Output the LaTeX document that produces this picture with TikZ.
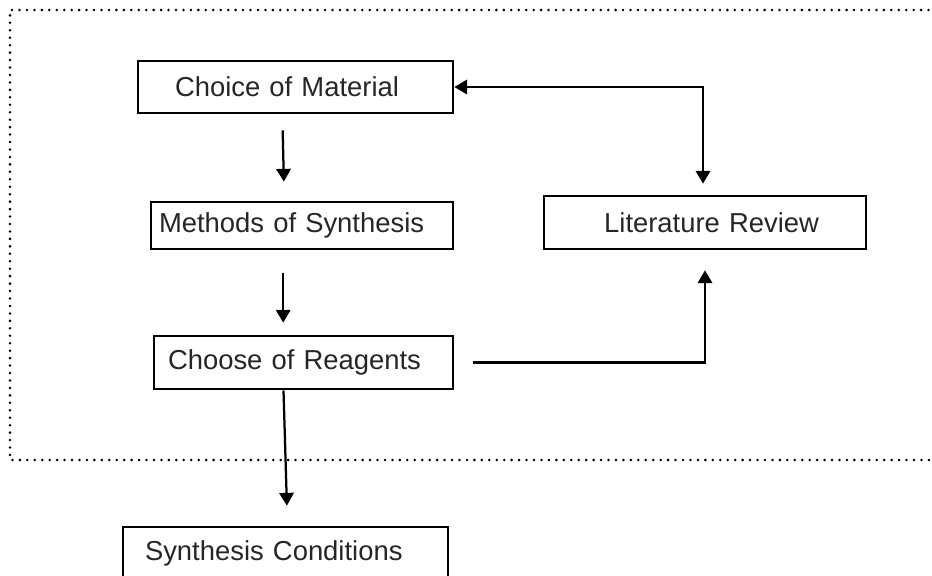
\documentclass[tikz,border=0pt]{standalone}
\usepackage{fontspec}
\setmainfont{Liberation Sans}
\usetikzlibrary{arrows.meta}

\begin{document}
\begin{tikzpicture}[->,>={Triangle[length=3.2mm,width=3.6mm]},line width=1.6pt,
box/.style={draw,line width=1.9pt,-,minimum height=1.3cm,align=left,text=black!85,font=\fontsize{19.5}{23}\selectfont}]
\useasboundingbox (0,0) rectangle (23.3,-14.375);
% dotted frame, open on the right
\draw[-,line width=2pt,line cap=round,dash pattern=on 0pt off 5.3pt]
(23.4,-0.25) -- (0.25,-0.25) -- (0.25,-11.5) -- (23.4,-11.5);
\node[box,inner xsep=0.925cm,text width=6.025cm] (mat) at (7.3875,-2.175) {Choice of Material};
\node[box,inner xsep=0.2cm,text width=7.15cm,minimum height=1.175cm] (meth) at (7.55,-5.6375) {Methods of Synthesis};
\node[box,inner xsep=0.35cm,text width=6.775cm,minimum height=1.325cm] (reag) at (7.5875,-9.0625) {Choose of Reagents};
\node[box,inner xsep=1.175cm,text width=5.7cm,align=right,minimum height=1.325cm] (lit) at (17.625,-5.5625) {Literature Review};
\node[box,inner xsep=0.55cm,text width=7.025cm] (cond) at (7.1375,-13.825) {Synthesis Conditions};
\draw[shorten <=0.4cm,shorten >=0.475cm] ([xshift=-0.33cm]mat.south) -- ([xshift=-0.28cm]mat.south |- meth.north);
\draw[shorten <=0.575cm,shorten >=0.3cm] ([xshift=-0.47cm]meth.south) -- ([xshift=-0.47cm]meth.south |- reag.north);
\draw[shorten >=0.5cm] ([xshift=-0.5cm]reag.south) -- ([xshift=-0.4cm]reag.south |- cond.north);
\draw[shorten <=0.475cm,shorten >=0.5cm] (reag.east) -| (lit.south);
\draw[<->,shorten >=0.275cm] (mat.east) -| ([xshift=-0.05cm]lit.north);
\end{tikzpicture}
\end{document}
